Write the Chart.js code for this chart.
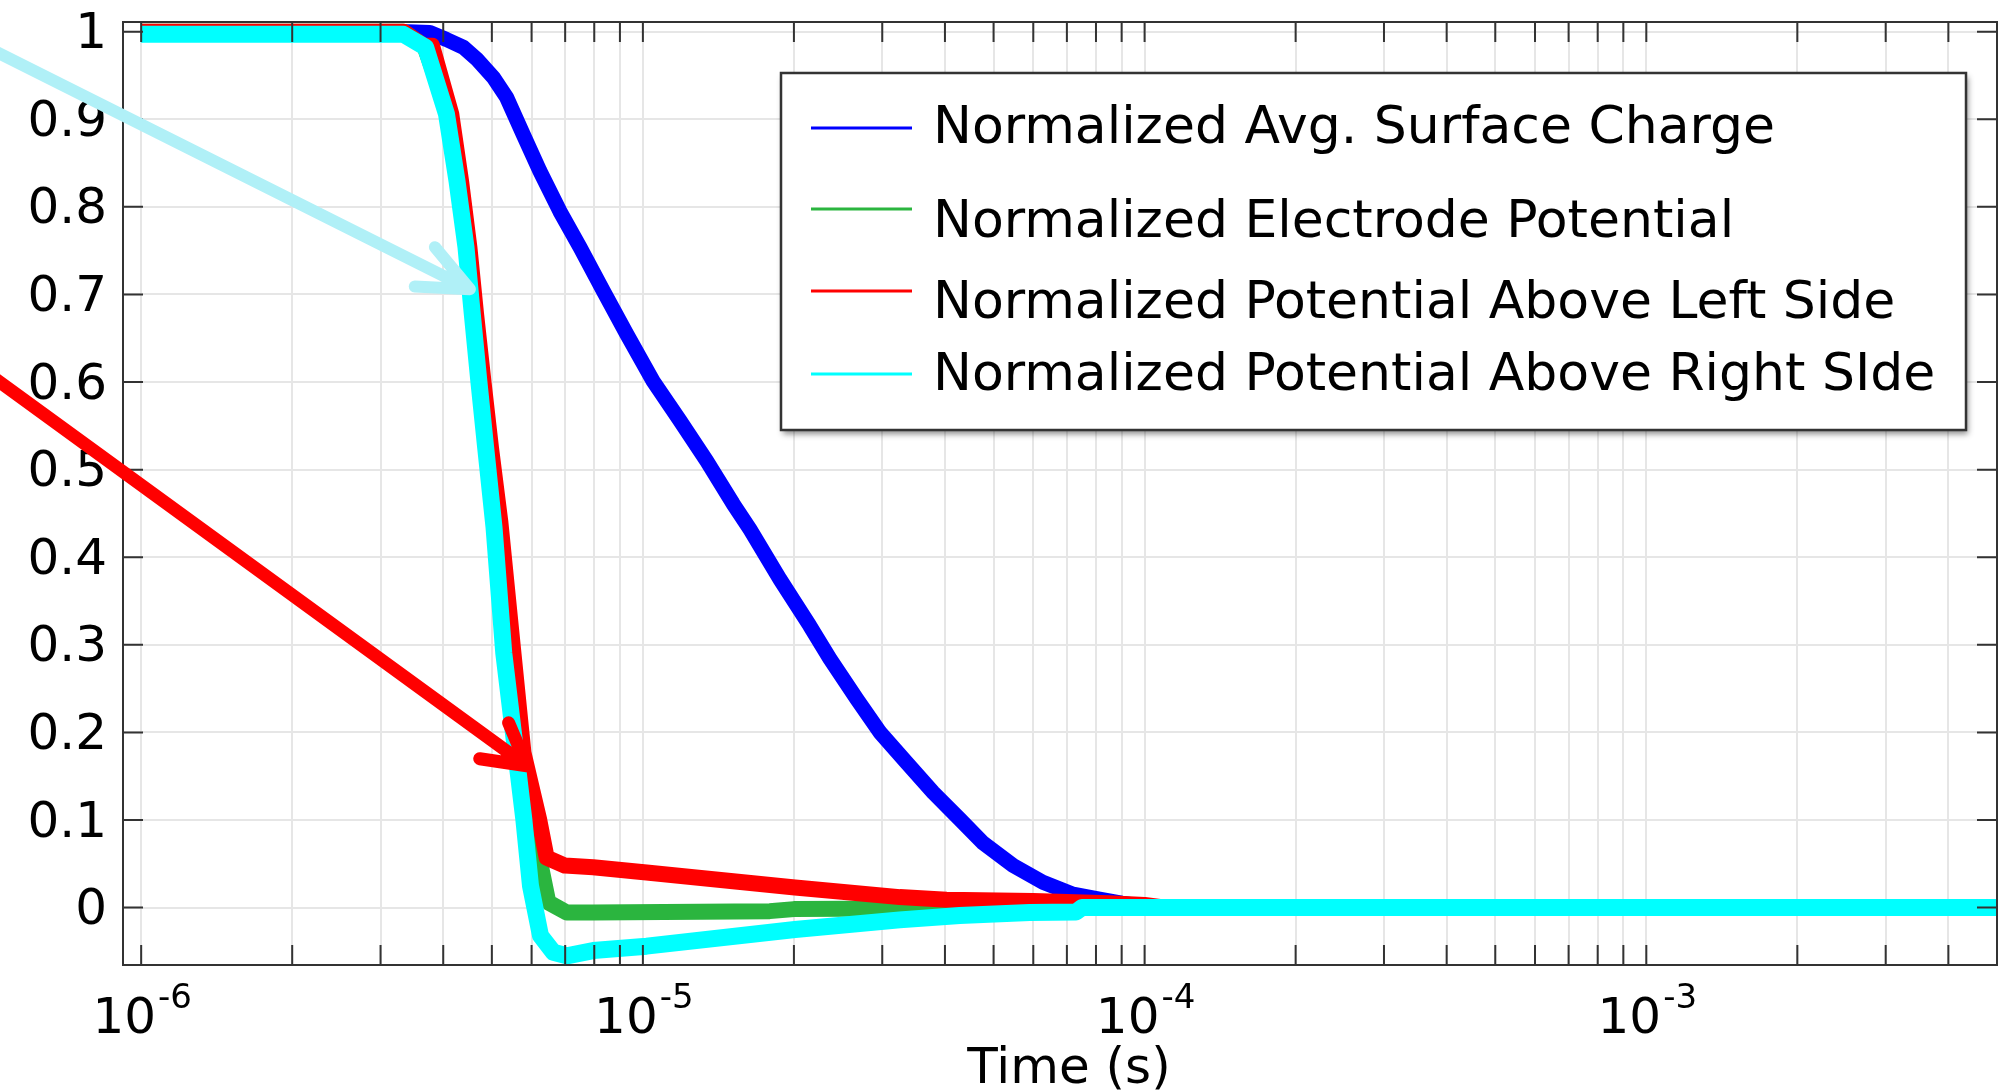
<!DOCTYPE html>
<html>
<head>
<meta charset="utf-8">
<title>Normalized charge and potential vs time</title>
<script src="https://cdn.jsdelivr.net/npm/chart.js@4.4.1/dist/chart.umd.min.js"></script>
<style>
  html, body { margin: 0; padding: 0; background: #fff; }
  canvas { display: block; }
</style>
</head>
<body>
<canvas id="decayChart" width="2004" height="1091"></canvas>
<script>
/* ========= DATA ========= */

// Normalized Avg. Surface Charge
const chargeTime  = [1e-6, 3.4e-6, 3.76e-6, 4.06e-6, 4.39e-6, 4.66e-6, 5.03e-6, 5.35e-6, 5.77e-6, 6.23e-6,
                     6.83e-6, 7.49e-6, 8.34e-6, 9.28e-6, 1.048e-5, 1.185e-5, 1.34e-5, 1.513e-5, 1.634e-5,
                     1.875e-5, 2.15e-5, 2.36e-5, 2.67e-5, 2.97e-5, 3.35e-5, 3.79e-5, 4.28e-5, 4.76e-5,
                     5.47e-5, 6.27e-5, 7.2e-5, 8.13e-5, 9.0e-5, 1.0e-4, 5e-3];
const chargeValue = [1, 1, 0.999, 0.991, 0.982, 0.969, 0.948, 0.925, 0.883, 0.841,
                     0.795, 0.754, 0.704, 0.655, 0.601, 0.556, 0.510, 0.461, 0.432,
                     0.375, 0.322, 0.284, 0.238, 0.200, 0.166, 0.1315, 0.101, 0.074,
                     0.048, 0.029, 0.0154, 0.0097, 0.005, 0.001, 0];

// Normalized Electrode Potential
const electrodeTime  = [1e-6, 3.33e-6, 3.67e-6, 4.1e-6, 4.3e-6, 4.48e-6, 4.61e-6, 4.76e-6, 4.92e-6, 5.12e-6,
                        5.4e-6, 5.68e-6, 6.0e-6, 6.28e-6, 6.48e-6, 7.05e-6, 7.96e-6, 1.79e-5, 2.0e-5,
                        3.25e-5, 4.5e-5, 5e-3];
const electrodeValue = [1, 1, 0.983, 0.906, 0.830, 0.754, 0.678, 0.601, 0.525, 0.434,
                        0.291, 0.177, 0.101, 0.044, 0.006, -0.0055, -0.0055, -0.004, -0.0017,
                        -0.001, 0, 0];

// Normalized Potential Above Left Side
const leftTime  = [1e-6, 3.33e-6, 3.65e-6, 3.8e-6, 4.15e-6, 4.34e-6, 4.51e-6, 4.65e-6, 4.81e-6, 4.98e-6,
                   5.2e-6, 5.52e-6, 5.78e-6, 6.21e-6, 6.43e-6, 6.99e-6, 7.96e-6, 1.017e-5, 2.01e-5,
                   3.25e-5, 4.03e-5, 6.0e-5, 8.5e-5, 1.0e-4, 1.1e-4, 5e-3];
const leftValue = [1, 1, 0.984, 0.984, 0.906, 0.830, 0.754, 0.678, 0.601, 0.525,
                   0.44, 0.291, 0.177, 0.101, 0.057, 0.048, 0.046, 0.040, 0.023,
                   0.012, 0.009, 0.0075, 0.005, 0.003, 0, 0];

// Normalized Potential Above Right Side
const rightTime  = [1e-6, 3.33e-6, 3.69e-6, 4.06e-6, 4.26e-6, 4.44e-6, 4.57e-6, 4.71e-6, 4.86e-6, 5.05e-6,
                    5.28e-6, 5.58e-6, 5.79e-6, 5.97e-6, 6.25e-6, 6.63e-6, 7.05e-6, 7.96e-6, 1.017e-5,
                    2.01e-5, 3.25e-5, 4.28e-5, 5.9e-5, 7.3e-5, 7.5e-5, 5e-3];
const rightValue = [0.997, 0.997, 0.982, 0.906, 0.830, 0.754, 0.678, 0.601, 0.525, 0.434,
                    0.291, 0.177, 0.101, 0.025, -0.032, -0.051, -0.055, -0.049, -0.044,
                    -0.025, -0.014, -0.009, -0.0055, -0.005, 0, 0];

// pointer arrows: tail, tip, barb, barb (time, value)
const lightArrowTime  = [4.78e-7, 4.52e-6, 3.85e-6, 3.51e-6];
const lightArrowValue = [0.986, 0.706, 0.754, 0.709];
const redArrowTime    = [4.78e-7, 5.87e-6, 5.4e-6, 4.73e-6];
const redArrowValue   = [0.616, 0.162, 0.211, 0.170];

// axis ticks
const decades   = [1e-6, 1e-5, 1e-4, 1e-3];
const exponents = ['-6', '-5', '-4', '-3'];
const yTicks  = [0, 0.1, 0.2, 0.3, 0.4, 0.5, 0.6, 0.7, 0.8, 0.9, 1];
const yLabels = ['0', '0.1', '0.2', '0.3', '0.4', '0.5', '0.6', '0.7', '0.8', '0.9', '1'];
const xTitle  = 'Time (s)';

const xMin = 9.2e-7, xMax = 5e-3;
const yMin = -0.0655, yMax = 1.011;

/* ========= HELPERS ========= */
const toPoints = (ts, vs) => ts.map((t, i) => ({ x: t, y: vs[i] }));

// 1..9 x each decade, up to the right edge
const logTicks = [];
decades.forEach(d => {
  for (let m = 1; m <= 9; m++) {
    const v = m * d;
    if (v <= xMax * 1.0001) logTicks.push(v);
  }
});

/* ========= PLUGINS ========= */

// box frame with inward ticks on all four sides
const frameTicks = {
  id: 'frameTicks',
  afterDatasetsDraw(chart) {
    const { ctx, chartArea: a, scales: { x, y } } = chart;
    const len = 20;
    ctx.save();
    ctx.strokeStyle = '#333';
    ctx.lineWidth = 2;
    ctx.beginPath();
    x.ticks.forEach(t => {
      const px = x.getPixelForValue(t.value);
      ctx.moveTo(px, a.bottom); ctx.lineTo(px, a.bottom - len);
      ctx.moveTo(px, a.top);    ctx.lineTo(px, a.top + len);
    });
    y.ticks.forEach(t => {
      const py = y.getPixelForValue(t.value);
      ctx.moveTo(a.left, py);  ctx.lineTo(a.left + len, py);
      ctx.moveTo(a.right, py); ctx.lineTo(a.right - len, py);
    });
    ctx.stroke();
    ctx.strokeRect(a.left, a.top, a.right - a.left, a.bottom - a.top);
    ctx.restore();
  }
};

// 10^n labels under the decades (exponent raised and smaller) and the axis title
const powerLabels = {
  id: 'powerLabels',
  afterDraw(chart) {
    const { ctx, chartArea: a, scales: { x } } = chart;
    const base = a.bottom + 68;
    ctx.save();
    ctx.fillStyle = '#000';
    ctx.textBaseline = 'alphabetic';
    ctx.textAlign = 'left';
    decades.forEach((d, i) => {
      ctx.font = '50px "DejaVu Sans"';
      const w1 = ctx.measureText('10').width;
      ctx.font = '34px "DejaVu Sans"';
      const w2 = ctx.measureText(exponents[i]).width;
      const left = x.getPixelForValue(d) - (w1 + w2) / 2;
      ctx.font = '50px "DejaVu Sans"';
      ctx.fillText('10', left, base);
      ctx.font = '34px "DejaVu Sans"';
      ctx.fillText(exponents[i], left + w1 + 2, base - 25);
    });
    ctx.font = '50px "DejaVu Sans"';
    ctx.textAlign = 'center';
    ctx.fillText(xTitle, (a.left + a.right) / 2 + 9, a.bottom + 118);
    ctx.restore();
  }
};

// hand-drawn pointer arrows
function drawArrow(chart, ts, vs, color, width) {
  const { ctx, scales: { x, y } } = chart;
  const p = ts.map((t, i) => [x.getPixelForValue(t), y.getPixelForValue(vs[i])]);
  ctx.save();
  ctx.strokeStyle = color;
  ctx.lineWidth = width;
  ctx.lineCap = 'round';
  ctx.lineJoin = 'round';
  ctx.beginPath();
  ctx.moveTo(p[0][0], p[0][1]);
  ctx.lineTo(p[1][0], p[1][1]);
  ctx.moveTo(p[2][0], p[2][1]);
  ctx.lineTo(p[1][0], p[1][1]);
  ctx.lineTo(p[3][0], p[3][1]);
  ctx.stroke();
  ctx.restore();
}

const arrows = {
  id: 'arrows',
  afterDatasetsDraw(chart) {
    drawArrow(chart, lightArrowTime, lightArrowValue, '#b0f0f7', 12);
    drawArrow(chart, redArrowTime, redArrowValue, '#ff0000', 13);
  }
};

// boxed legend inside the plot
const legendBox = {
  id: 'legendBox',
  afterDraw(chart, args, o) {
    const c = chart.ctx;
    c.save();
    c.shadowColor = 'rgba(0,0,0,0.45)';
    c.shadowBlur = 6;
    c.shadowOffsetX = 2;
    c.shadowOffsetY = 4;
    c.fillStyle = '#fff';
    c.fillRect(o.left, o.top, o.right - o.left, o.bottom - o.top);
    c.shadowColor = 'transparent';
    c.strokeStyle = '#333';
    c.lineWidth = 2.5;
    c.strokeRect(o.left, o.top, o.right - o.left, o.bottom - o.top);
    c.font = '52px "DejaVu Sans"';
    c.textBaseline = 'alphabetic';
    chart.data.datasets.forEach((ds, i) => {
      c.strokeStyle = ds.borderColor;
      c.lineWidth = 3;
      c.beginPath();
      c.moveTo(o.lineStart, o.rows[i]);
      c.lineTo(o.lineEnd, o.rows[i]);
      c.stroke();
      c.fillStyle = '#000';
      c.fillText(ds.label, o.textX, o.baselines[i]);
    });
    c.restore();
  }
};

/* ========= CHART ========= */
Chart.defaults.font.family = "'DejaVu Sans', sans-serif";
Chart.defaults.color = '#000';

new Chart(document.getElementById('decayChart'), {
  type: 'line',
  data: {
    datasets: [
      { label: 'Normalized Avg. Surface Charge', data: toPoints(chargeTime, chargeValue),
        borderColor: '#0000ff', borderWidth: 15, order: 4 },
      { label: 'Normalized Electrode Potential', data: toPoints(electrodeTime, electrodeValue),
        borderColor: '#2bb53f', borderWidth: 16, order: 3 },
      { label: 'Normalized Potential Above Left Side', data: toPoints(leftTime, leftValue),
        borderColor: '#ff0000', borderWidth: 16, order: 2 },
      { label: 'Normalized Potential Above Right SIde', data: toPoints(rightTime, rightValue),
        borderColor: '#00ffff', borderWidth: 17, order: 1 }
    ]
  },
  options: {
    responsive: false,
    animation: false,
    layout: { padding: { top: 22, right: 7, left: 0, bottom: 0 } },
    elements: {
      point: { radius: 0 },
      line: { tension: 0, borderJoinStyle: 'round', fill: false }
    },
    plugins: {
      legend: { display: false },
      tooltip: { enabled: false },
      legendBox: {
        left: 781, top: 73, right: 1966, bottom: 430,
        lineStart: 811, lineEnd: 912, textX: 933,
        rows: [128, 209, 291, 374],
        baselines: [143, 237, 318, 390]
      }
    },
    scales: {
      x: {
        type: 'logarithmic',
        min: xMin, max: xMax,
        bounds: 'data',
        border: { display: false },
        grid: { color: '#e6e6e6', lineWidth: 2, drawTicks: false },
        ticks: { display: false, autoSkip: false, maxRotation: 0, minRotation: 0 },
        afterBuildTicks: (s) => { s.ticks = logTicks.map(v => ({ value: v })); },
        afterFit: (s) => {
          s.height = 126;
          s.paddingLeft = 0; s.paddingRight = 0; s.paddingTop = 0; s.paddingBottom = 0;
        }
      },
      y: {
        min: yMin, max: yMax,
        bounds: 'data',
        border: { display: false },
        grid: { color: '#e6e6e6', lineWidth: 2, drawTicks: false },
        ticks: {
          padding: 16,
          labelOffset: 3.5,
          font: { size: 50 },
          callback: (value, index) => yLabels[index]
        },
        afterBuildTicks: (s) => { s.ticks = yTicks.map(v => ({ value: v })); },
        afterFit: (s) => {
          s.width = 123;
          s.paddingLeft = 0; s.paddingRight = 0; s.paddingTop = 0; s.paddingBottom = 0;
        }
      }
    }
  },
  plugins: [frameTicks, arrows, powerLabels, legendBox]
});
</script>
</body>
</html>
